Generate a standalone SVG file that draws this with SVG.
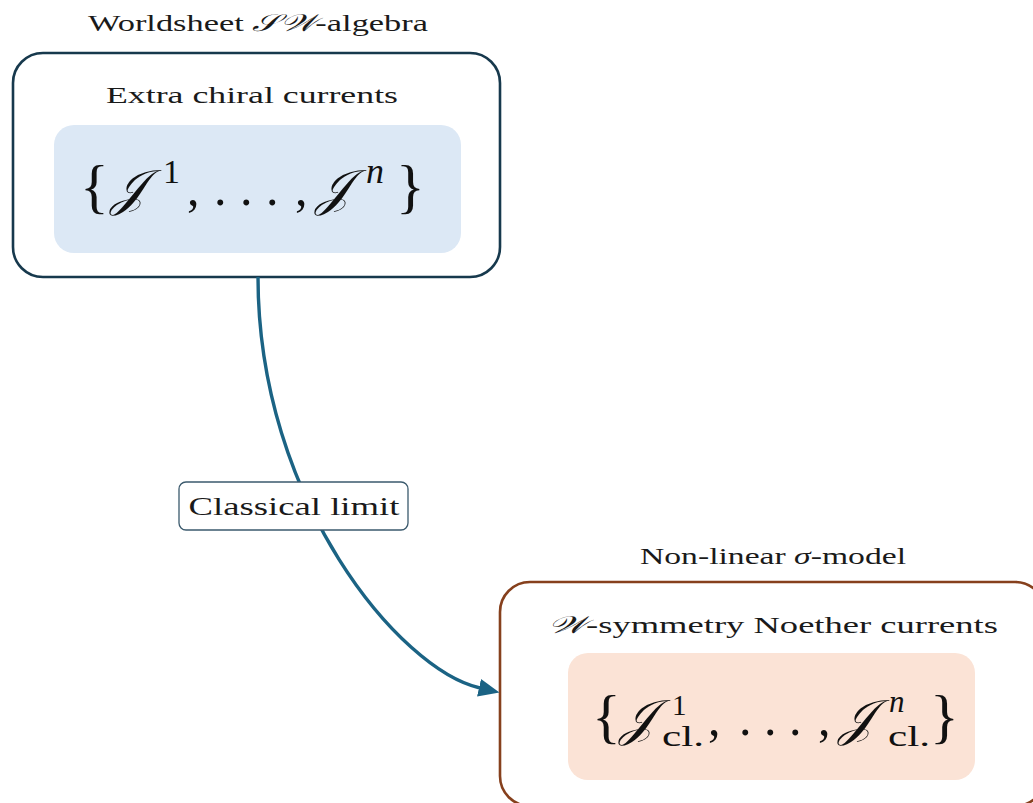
<svg xmlns="http://www.w3.org/2000/svg" width="1033" height="803" viewBox="0 0 1033 803">
  <style>
    .t { font-family: "Liberation Serif", "DejaVu Serif", serif; fill: #1a1a1a; }
    .m { font-family: "Liberation Serif", "DejaVu Serif", serif; fill: #111; }
    .scr { font-family: "DejaVu Sans", "Noto Sans", "Liberation Serif", serif; font-style: italic; }
    .frame-top { fill: #ffffff; stroke: #17394d; stroke-width: 2.6; }
    .frame-bot { fill: #ffffff; stroke: #86401d; stroke-width: 2.6; }
    .edge { fill: none; stroke: #1b6384; stroke-width: 3.4; }
  </style>
  <defs>
    <marker id="head" markerUnits="userSpaceOnUse" markerWidth="24" markerHeight="22" refX="1" refY="10" orient="auto" viewBox="0 0 24 22">
      <path d="M0,1 L21,10 L0,19 z" fill="#1b6384"/>
    </marker>
  </defs>

  <!-- worldsheet algebra -->
  <g id="worldsheet">
    <text class="t" x="258" y="31" font-size="24" text-anchor="middle" textLength="340" lengthAdjust="spacingAndGlyphs">Worldsheet <tspan class="scr">𝒮𝒲</tspan>-algebra</text>
    <rect class="frame-top" x="13" y="53" width="487" height="224" rx="30"/>
    <text class="t" x="252" y="103" font-size="24" text-anchor="middle" textLength="292" lengthAdjust="spacingAndGlyphs">Extra chiral currents</text>
    <rect x="54" y="125" width="407" height="128" rx="20" fill="#dce8f5"/>
    <g class="m" font-size="50">
      <text x="80" y="206" font-size="60">{</text>
      <text class="scr" x="111" y="205">𝒥</text>
      <text x="163" y="183" font-size="34">1</text>
      <text x="187" y="205">,</text>
      <text x="214" y="205">.</text>
      <text x="240" y="205">.</text>
      <text x="266" y="205">.</text>
      <text x="295" y="205">,</text>
      <text class="scr" x="316" y="205">𝒥</text>
      <text x="366" y="183" font-size="36" font-style="italic">n</text>
      <text x="396" y="206" font-size="60">}</text>
    </g>
  </g>

  <!-- sigma model -->
  <g id="sigma-model">
    <text class="t" x="773" y="564" font-size="24" text-anchor="middle" textLength="266" lengthAdjust="spacingAndGlyphs">Non-linear <tspan font-style="italic">σ</tspan>-model</text>
    <rect class="frame-bot" x="500" y="582" width="545" height="224" rx="30"/>
    <text class="t" x="773" y="633" font-size="24" text-anchor="middle" textLength="450" lengthAdjust="spacingAndGlyphs"><tspan class="scr">𝒲</tspan>-symmetry Noether currents</text>
    <rect x="568" y="653" width="407" height="127" rx="20" fill="#fbe3d6"/>
    <g class="m" font-size="50">
      <text x="592" y="736" font-size="60">{</text>
      <text class="scr" x="620" y="735">𝒥</text>
      <text x="672" y="715" font-size="29">1</text>
      <text x="662" y="746" font-size="29" textLength="42" lengthAdjust="spacingAndGlyphs">cl.</text>
      <text x="708" y="735">,</text>
      <text x="739" y="735">.</text>
      <text x="764" y="735">.</text>
      <text x="789" y="735">.</text>
      <text x="818" y="735">,</text>
      <text class="scr" x="839" y="735">𝒥</text>
      <text x="889" y="712" font-size="31" font-style="italic">n</text>
      <text x="888" y="746" font-size="29" textLength="42" lengthAdjust="spacingAndGlyphs">cl.</text>
      <text x="930" y="736" font-size="60">}</text>
    </g>
  </g>

  <!-- connector -->
  <g id="connectors">
    <path class="edge" d="M258,277 C258,500 400,670 480,688" marker-end="url(#head)"/>
    <g id="label-classical">
      <rect x="179" y="482" width="229" height="48" rx="7" fill="#ffffff" stroke="#3b5a6d" stroke-width="1.3"/>
      <text class="t" x="294" y="515" font-size="26" text-anchor="middle" textLength="211" lengthAdjust="spacingAndGlyphs">Classical limit</text>
    </g>
  </g>
</svg>
